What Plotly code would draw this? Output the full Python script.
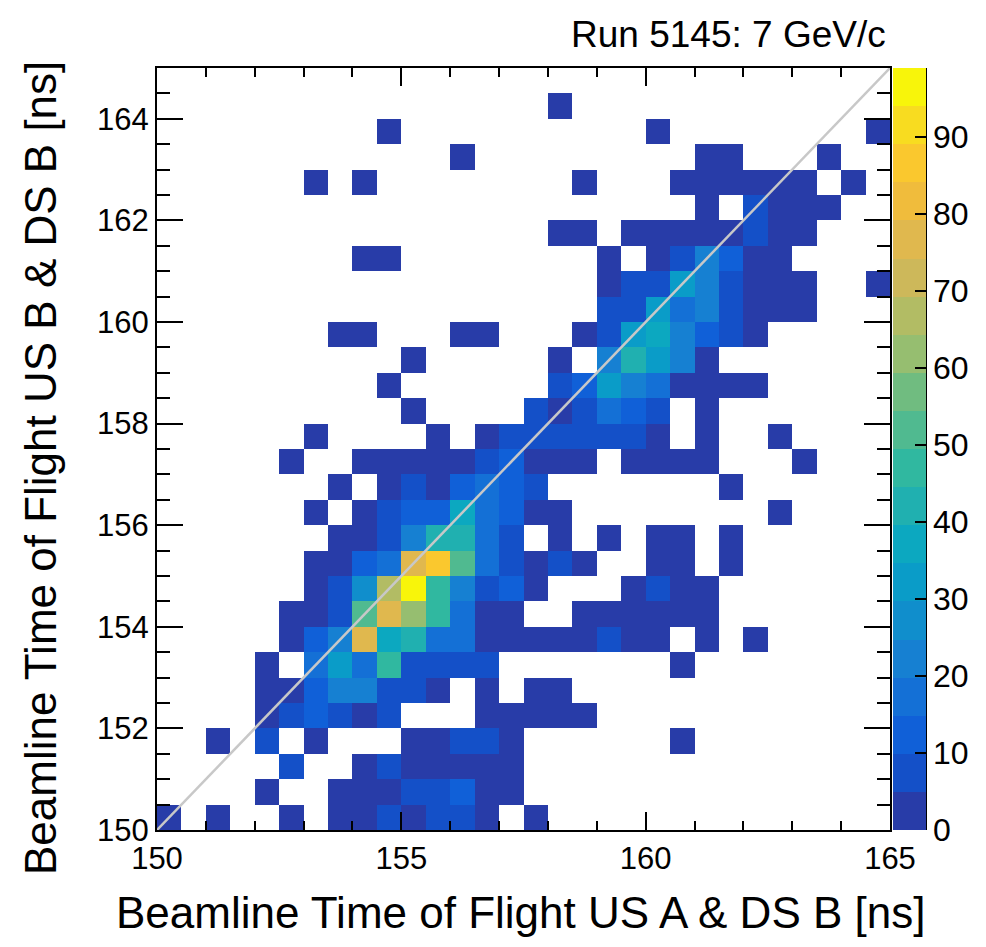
import plotly.graph_objects as go

# bin centres (0.5 ns bins from 150 to 165)
x_centers = [150.25 + 0.5 * k for k in range(30)]
y_centers = [150.25 + 0.5 * k for k in range(30)]

# counts[j][i]: row j = y bin (from 150 upwards), column i = x bin; 0 = empty
counts = [
    [2,0,2,0,0,2,0,2,2,7,2,7,7,2,0,2,0,0,0,0,0,0,0,0,0,0,0,0,0,0],
    [0,0,0,0,2,0,0,2,2,2,7,7,12,2,2,0,0,0,0,0,0,0,0,0,0,0,0,0,0,0],
    [0,0,0,0,0,7,0,0,2,7,2,2,2,2,2,0,0,0,0,0,0,0,0,0,0,0,0,0,0,0],
    [0,0,2,0,7,0,2,0,0,0,2,2,7,7,2,0,0,0,0,0,0,2,0,0,0,0,0,0,0,0],
    [0,0,0,0,2,7,12,7,2,7,0,0,0,2,2,2,2,2,0,0,0,0,0,0,0,0,0,0,0,0],
    [0,0,0,0,2,2,12,22,22,7,7,2,0,2,0,2,2,0,0,0,0,0,0,0,0,0,0,0,0,0],
    [0,0,0,0,2,0,17,32,17,47,7,7,7,7,0,0,0,0,0,0,0,2,0,0,0,0,0,0,0,0],
    [0,0,0,0,0,2,12,22,77,37,42,17,17,2,2,2,2,2,7,2,2,0,2,0,2,0,0,0,0,0],
    [0,0,0,0,0,2,2,7,52,77,62,47,17,2,2,0,0,2,2,2,2,2,2,0,0,0,0,0,0,0],
    [0,0,0,0,0,0,2,7,27,67,99,47,22,7,12,2,0,0,0,2,7,2,2,0,0,0,0,0,0,0],
    [0,0,0,0,0,0,2,2,12,17,77,87,52,17,7,2,7,2,0,0,2,2,0,2,0,0,0,0,0,0],
    [0,0,0,0,0,0,0,2,2,7,22,42,42,17,7,0,2,0,2,0,2,2,0,2,0,0,0,0,0,0],
    [0,0,0,0,0,0,2,0,2,7,12,12,37,17,12,2,2,0,0,0,0,0,0,0,0,2,0,0,0,0],
    [0,0,0,0,0,0,0,2,0,2,7,2,12,17,12,7,0,0,0,0,0,0,0,2,0,0,0,0,0,0],
    [0,0,0,0,0,2,0,0,2,2,2,2,2,7,12,2,2,2,0,2,2,2,2,0,0,0,2,0,0,0],
    [0,0,0,0,0,0,2,0,0,0,0,2,0,2,7,7,7,7,7,7,2,0,2,0,0,2,0,0,0,0],
    [0,0,0,0,0,0,0,0,0,0,2,0,0,0,0,7,2,7,17,12,7,0,2,0,0,0,0,0,0,0],
    [0,0,0,0,0,0,0,0,0,2,0,0,0,0,0,0,7,12,32,22,17,2,2,2,2,0,0,0,0,0],
    [0,0,0,0,0,0,0,0,0,0,2,0,0,0,0,0,2,0,22,42,32,22,2,0,0,0,0,0,0,0],
    [0,0,0,0,0,0,0,2,2,0,0,0,2,2,0,0,0,2,7,32,37,22,12,7,2,0,0,0,0,0],
    [0,0,0,0,0,0,0,0,0,0,0,0,0,0,0,0,0,0,7,7,32,17,22,7,2,2,2,0,0,0],
    [0,0,0,0,0,0,0,0,0,0,0,0,0,0,0,0,0,0,2,7,7,32,22,7,2,2,2,0,0,2],
    [0,0,0,0,0,0,0,0,2,2,0,0,0,0,0,0,0,0,2,0,2,7,22,12,2,2,0,0,0,0],
    [0,0,0,0,0,0,0,0,0,0,0,0,0,0,0,0,2,2,0,2,2,2,2,2,7,2,2,0,0,0],
    [0,0,0,0,0,0,0,0,0,0,0,0,0,0,0,0,0,0,0,0,0,0,2,0,7,2,2,2,0,0],
    [0,0,0,0,0,0,2,0,2,0,0,0,0,0,0,0,0,2,0,0,0,2,2,2,2,2,2,0,2,0],
    [0,0,0,0,0,0,0,0,0,0,0,0,2,0,0,0,0,0,0,0,0,0,2,2,0,0,0,2,0,0],
    [0,0,0,0,0,0,0,0,0,2,0,0,0,0,0,0,0,0,0,0,2,0,0,0,0,0,0,0,0,2],
    [0,0,0,0,0,0,0,0,0,0,0,0,0,0,0,0,2,0,0,0,0,0,0,0,0,0,0,0,0,0],
    [0]*30,
]

diag_x = [150, 165]
diag_y = [150, 165]

x_tickvals = [150, 155, 160, 165]
y_tickvals = [150, 152, 154, 156, 158, 160, 162, 164]
z_tickvals = [0, 10, 20, 30, 40, 50, 60, 70, 80, 90]
z_max = 99

palette = [
    "#283ca8", "#1450c8", "#1060d8", "#1470d6", "#1680d2",
    "#108ecc", "#0a9cc8", "#0ca8c0", "#20b0b0", "#30b8a0",
    "#50ba90", "#70bc80", "#96be70", "#b2bc64", "#cdb85a",
    "#e0b84e", "#f0bc3c", "#fac82e", "#f8dc20", "#f8f50a",
]
colorscale = []
n = len(palette)
for k, c in enumerate(palette):
    colorscale.append([k / n, c])
    colorscale.append([(k + 1) / n, c])

z = [[(v if v > 0 else None) for v in row] for row in counts]

FONT = "Liberation Sans, Arial, Helvetica, sans-serif"

W, H = 986, 947
L, R, T, B = 157, 96, 68, 117
pw = W - L - R

fig = go.Figure()
fig.add_trace(go.Heatmap(
    x=x_centers, y=y_centers, z=z,
    colorscale=colorscale, zmin=0, zmax=z_max,
    colorbar=dict(
        x=(893 - L) / pw, xanchor="left", xpad=0, ypad=0,
        y=0.5, yanchor="middle", len=1, lenmode="fraction",
        thickness=33, thicknessmode="pixels",
        outlinewidth=0,
        tickmode="array", tickvals=z_tickvals,
        ticks="inside", ticklen=11, tickwidth=2, tickcolor="black",
        tickfont=dict(family=FONT, size=32, color="black"),
    ),
    hoverongaps=False,
))
fig.add_trace(go.Scatter(
    x=diag_x, y=diag_y, mode="lines",
    line=dict(color="#c8c8c8", width=2.5), showlegend=False, hoverinfo="skip",
))

axis_common = dict(
    showgrid=False, zeroline=False, showline=True, linewidth=2, linecolor="black",
    mirror="ticks", ticks="inside", tickwidth=2, tickcolor="black",
    tickfont=dict(family=FONT, size=31, color="black"),
)
fig.update_xaxes(range=[150, 165], tickmode="array", tickvals=x_tickvals, ticklen=18,
                 minor=dict(dtick=1, tick0=150, ticklen=9, tickwidth=2, tickcolor="black", ticks="inside"),
                 **axis_common)
fig.update_yaxes(range=[150, 165], tickmode="array", tickvals=y_tickvals, ticklen=26,
                 minor=dict(dtick=0.5, tick0=150, ticklen=13, tickwidth=2, tickcolor="black", ticks="inside"),
                 **axis_common)

# line along the right edge of the colour bar
fig.add_shape(type="line", xref="paper", yref="paper",
              x0=(926 - L) / pw, x1=(926 - L) / pw, y0=0, y1=1,
              line=dict(color="black", width=2))

fig.add_annotation(text="Beamline Time of Flight US A & DS B [ns]", xref="paper", yref="paper",
                   x=(520 - L) / pw, y=0, yanchor="middle", yshift=-(912 - 830), showarrow=False,
                   font=dict(family=FONT, size=44, color="black"))
fig.add_annotation(text="Beamline Time of Flight US B & DS B [ns]", xref="paper", yref="paper",
                   x=(40 - L) / pw, xanchor="center", y=0.5, yshift=(449 - 468), textangle=-90,
                   showarrow=False, font=dict(family=FONT, size=44, color="black"))
fig.add_annotation(text="Run 5145: 7 GeV/c", xref="paper", yref="paper",
                   x=(888 - L) / pw, xanchor="right", y=1, yanchor="middle", yshift=(68 - 34),
                   showarrow=False, font=dict(family=FONT, size=37, color="black"))

fig.update_layout(
    width=W, height=H,
    margin=dict(l=L, r=R, t=T, b=B, autoexpand=False),
    plot_bgcolor="white", paper_bgcolor="white",
    showlegend=False,
)
fig.write_html("out.html")
